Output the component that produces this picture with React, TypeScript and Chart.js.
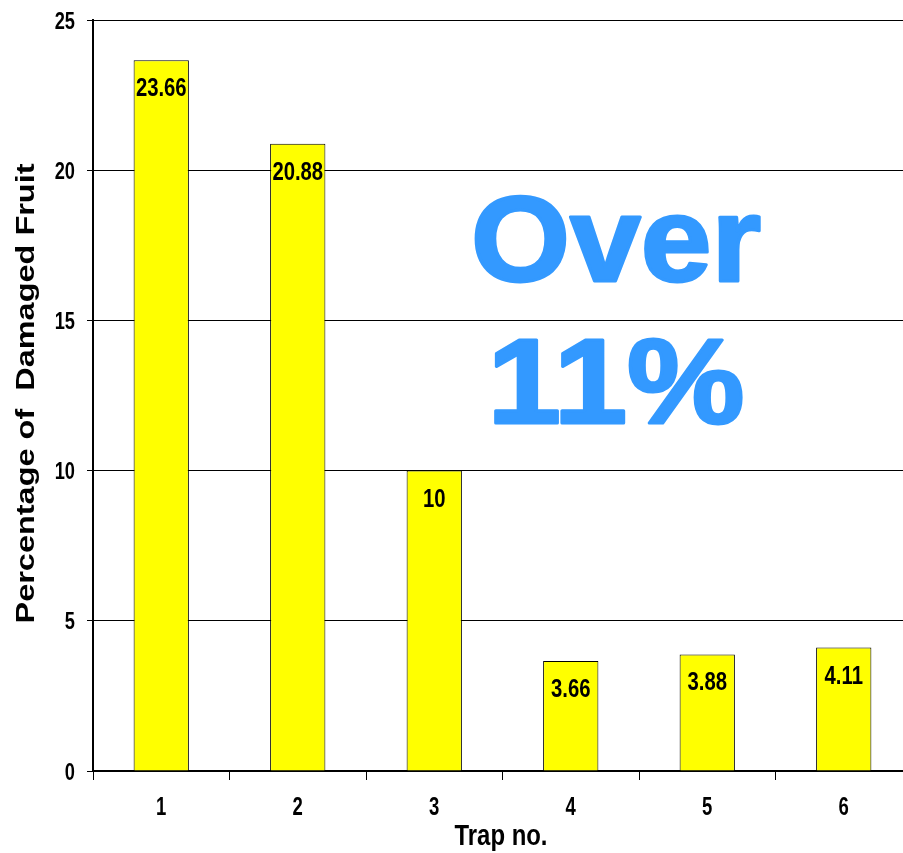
import React, { useEffect, useRef } from "react";
import { Chart, registerables } from "chart.js";

Chart.register(...registerables);

const categories = ["1", "2", "3", "4", "5", "6"];
const damagedPercent = [23.66, 20.88, 10, 3.66, 3.88, 4.11];
const valueLabels = ["23.66", "20.88", "10", "3.66", "3.88", "4.11"];
const yTickValues = [0, 5, 10, 15, 20, 25];
const xTitle = "Trap no.";
const yTitle = "Percentage of  Damaged Fruit";
const overlayLines = ["Over", "11%"];

const SANS = "'Liberation Sans', Arial, sans-serif";

function drawScaled(
  ctx: CanvasRenderingContext2D,
  text: string,
  x: number,
  y: number,
  font: string,
  sx: number,
  align: CanvasTextAlign
) {
  ctx.save();
  ctx.font = font;
  ctx.textAlign = align;
  ctx.textBaseline = "alphabetic";
  ctx.translate(x, y);
  ctx.scale(sx, 1);
  ctx.fillText(text, 0, 0);
  ctx.restore();
}

const textPlugin = {
  id: "customText",
  afterDatasetsDraw(chart: any) {
    const ctx: CanvasRenderingContext2D = chart.ctx;
    const meta = chart.getDatasetMeta(0);
    ctx.save();
    ctx.fillStyle = "#000";
    meta.data.forEach((el: any, i: number) => {
      drawScaled(ctx, valueLabels[i], el.x, el.y + 36, `bold 26px ${SANS}`, 0.78, "center");
    });
    ctx.restore();
  },
  afterDraw(chart: any) {
    const ctx: CanvasRenderingContext2D = chart.ctx;
    const area = chart.chartArea;
    const xs = chart.scales.x;
    const ys = chart.scales.y;
    ctx.save();
    ctx.fillStyle = "#000";

    // y tick labels
    yTickValues.forEach((v) => {
      const py = ys.getPixelForValue(v);
      drawScaled(ctx, String(v), area.left - 18, py + 8.5, `bold 24px ${SANS}`, 0.76, "right");
    });

    // x tick labels
    categories.forEach((c, i) => {
      const px = xs.getPixelForValue(i);
      drawScaled(ctx, c, px, area.bottom + 44, `bold 25px ${SANS}`, 0.74, "center");
    });

    // x title
    ctx.font = `bold 29px ${SANS}`;
    const xw = ctx.measureText(xTitle).width;
    drawScaled(ctx, xTitle, 501, area.bottom + 74, `bold 29px ${SANS}`, 93 / xw, "center");

    // y title (rotated, stretched)
    ctx.font = `bold 26px ${SANS}`;
    const yw = ctx.measureText(yTitle).width;
    ctx.save();
    ctx.translate(34, (area.top + area.bottom) / 2 - 2);
    ctx.rotate(-Math.PI / 2);
    ctx.scale(460 / yw, 1);
    ctx.font = `bold 26px ${SANS}`;
    ctx.textAlign = "center";
    ctx.textBaseline = "alphabetic";
    ctx.fillText(yTitle, 0, 0);
    ctx.restore();

    // big overlay text
    const cx = 616;
    const bigFont = `bold 120px ${SANS}`;
    ctx.fillStyle = "#3399FF";
    ctx.strokeStyle = "#3399FF";
    ctx.lineWidth = 3;
    ctx.lineJoin = "round";
    [
      { t: overlayLines[0], y: area.top + 261, w: 290 },
      { t: overlayLines[1], y: area.top + 403, w: 257 },
    ].forEach((o) => {
      ctx.font = bigFont;
      const w = ctx.measureText(o.t).width;
      ctx.save();
      ctx.translate(cx, o.y);
      ctx.scale(o.w / w, 1);
      ctx.font = bigFont;
      ctx.textAlign = "center";
      ctx.textBaseline = "alphabetic";
      ctx.fillText(o.t, 0, 0);
      ctx.strokeText(o.t, 0, 0);
      ctx.restore();
    });
    ctx.restore();
  },
};

export default function App() {
  const ref = useRef<HTMLCanvasElement | null>(null);
  useEffect(() => {
    if (!ref.current) return;
    const chart = new Chart(ref.current, {
      type: "bar",
      data: {
        labels: categories,
        datasets: [
          {
            data: damagedPercent,
            backgroundColor: "#FFFF00",
            borderColor: "#000",
            borderWidth: 1,
            barPercentage: 0.405,
            categoryPercentage: 1,
          },
        ],
      },
      options: {
        animation: false,
        responsive: true,
        maintainAspectRatio: false,
        layout: { padding: { top: 20, right: 0, left: 0, bottom: 0 } },
        plugins: {
          legend: { display: false },
          tooltip: { enabled: false },
        },
        scales: {
          x: {
            offset: true,
            grid: {
              offset: true,
              drawOnChartArea: false,
              drawTicks: true,
              tickLength: 9,
              color: "#000",
              lineWidth: 1,
            },
            border: { display: true, color: "#000", width: 2 },
            ticks: { display: false },
            afterFit(scale: any) {
              scale.height = 82;
            },
          },
          y: {
            min: 0,
            max: 25,
            afterBuildTicks(scale: any) {
              scale.ticks = yTickValues.map((v) => ({ value: v }));
            },
            grid: {
              color: "#000",
              lineWidth: 1,
              drawTicks: true,
              tickLength: 6,
            },
            border: { display: true, color: "#000", width: 2 },
            ticks: { display: false },
            afterFit(scale: any) {
              scale.width = 93;
            },
          },
        },
      },
      plugins: [textPlugin],
    });
    return () => chart.destroy();
  }, []);

  return (
    <div style={{ position: "fixed", left: 0, top: 0, width: 903, height: 853, overflow: "hidden", background: "#fff" }}>
      <div style={{ position: "relative", width: 912, height: 853 }}>
        <canvas ref={ref} />
      </div>
    </div>
  );
}
